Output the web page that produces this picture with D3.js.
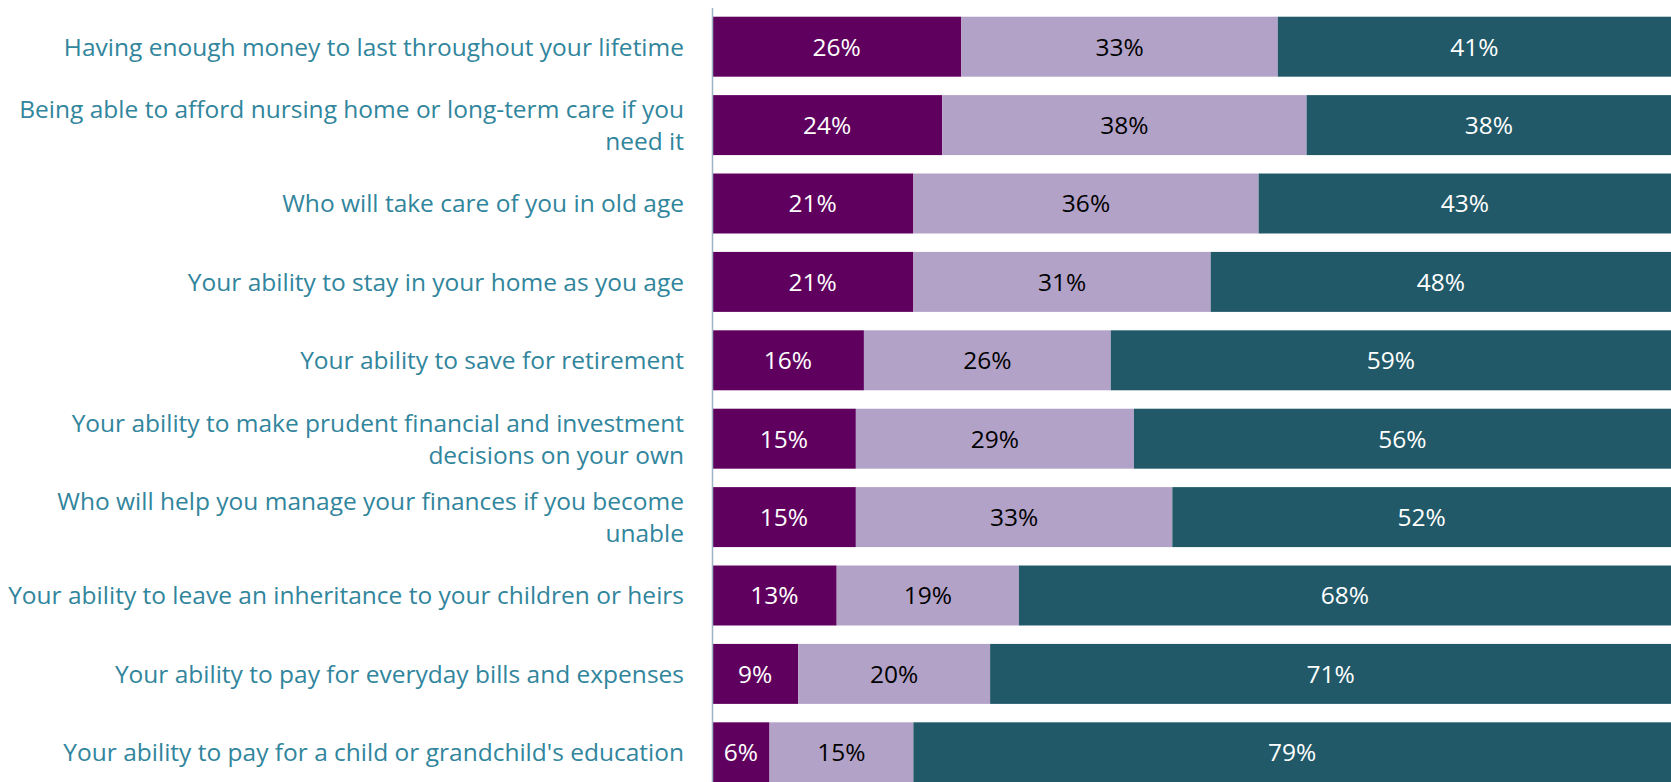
<!DOCTYPE html>
<html>
<head>
<meta charset="utf-8">
<script src="https://cdn.jsdelivr.net/npm/d3@7"></script>
<style>
  html, body { margin: 0; padding: 0; background: #ffffff; }
  svg { display: block; }
  .cat text { font-family: "Open Sans", Lato, sans-serif; }
</style>
</head>
<body>
<svg id="chart" width="1671" height="782"></svg>
<script>
// Survey items (line breaks where the label wraps)
const categories = [
  "Having enough money to last throughout your lifetime",
  "Being able to afford nursing home or long-term care if you\nneed it",
  "Who will take care of you in old age",
  "Your ability to stay in your home as you age",
  "Your ability to save for retirement",
  "Your ability to make prudent financial and investment\ndecisions on your own",
  "Who will help you manage your finances if you become\nunable",
  "Your ability to leave an inheritance to your children or heirs",
  "Your ability to pay for everyday bills and expenses",
  "Your ability to pay for a child or grandchild's education"
];

// Share of respondents per response level (percent)
const seriesHigh   = [26, 24, 21, 21, 16, 15, 15, 13, 9, 6];
const seriesMid    = [33, 38, 36, 31, 26, 29, 33, 19, 20, 15];
const seriesLow    = [41, 38, 43, 48, 59, 56, 52, 68, 71, 79];

const seriesKeys   = ["high", "mid", "low"];
const seriesColors = { high: "#60005E", mid: "#B3A2C7", low: "#215968" };
const labelColors  = { high: "#ffffff", mid: "#000000", low: "#ffffff" };

const rows = categories.map((c, i) => ({
  category: c, high: seriesHigh[i], mid: seriesMid[i], low: seriesLow[i]
}));

const svg = d3.select("#chart");
const W = 1671, H = 782;
const left = 712;
const fontSize = 24.5;

const y = d3.scaleBand()
  .domain(categories)
  .range([7.5, 791.5])
  .paddingInner(0.235)
  .paddingOuter(0.1175);

const x = d3.scaleLinear().domain([0, 1]).range([left, W]);

// 100% stacked layout
const stacked = d3.stack().keys(seriesKeys).offset(d3.stackOffsetExpand)(rows);

const layer = svg.append("g").selectAll("g")
  .data(stacked)
  .join("g")
  .attr("fill", d => seriesColors[d.key]);

layer.selectAll("rect")
  .data(d => d)
  .join("rect")
  .attr("x", d => x(d[0]))
  .attr("y", d => y(d.data.category))
  .attr("width", d => x(d[1]) - x(d[0]))
  .attr("height", y.bandwidth());

// Value labels centered in each segment
layer.selectAll("text")
  .data(d => d.map(v => ({ v, key: d.key })))
  .join("text")
  .attr("x", d => (x(d.v[0]) + x(d.v[1])) / 2)
  .attr("y", d => y(d.v.data.category) + y.bandwidth() / 2)
  .attr("dy", "0.36em")
  .attr("text-anchor", "middle")
  .attr("fill", d => labelColors[d.key])
  .style("font-family", "'Open Sans', Lato, sans-serif")
  .style("font-size", fontSize + "px")
  .text(d => d.v.data[d.key] + "%");

// Category axis
const axis = svg.append("g")
  .attr("class", "cat")
  .attr("transform", `translate(${left},0)`)
  .call(d3.axisLeft(y).tickSize(0).tickSizeOuter(0).tickPadding(28));

axis.select(".domain").attr("stroke", "#9DB5C4").attr("stroke-width", 1.5);

axis.selectAll(".tick text")
  .attr("fill", "#31859C")
  .style("font-size", fontSize + "px")
  .each(function(d) {
    const lines = d.split("\n");
    const t = d3.select(this).text(null).attr("dy", null);
    const lh = 32;
    lines.forEach((ln, i) => {
      t.append("tspan")
        .attr("x", -28)
        .attr("dy", i === 0 ? `${0.36 * fontSize - (lines.length - 1) * lh / 2}px` : `${lh}px`)
        .text(ln);
    });
  });
</script>
</body>
</html>
